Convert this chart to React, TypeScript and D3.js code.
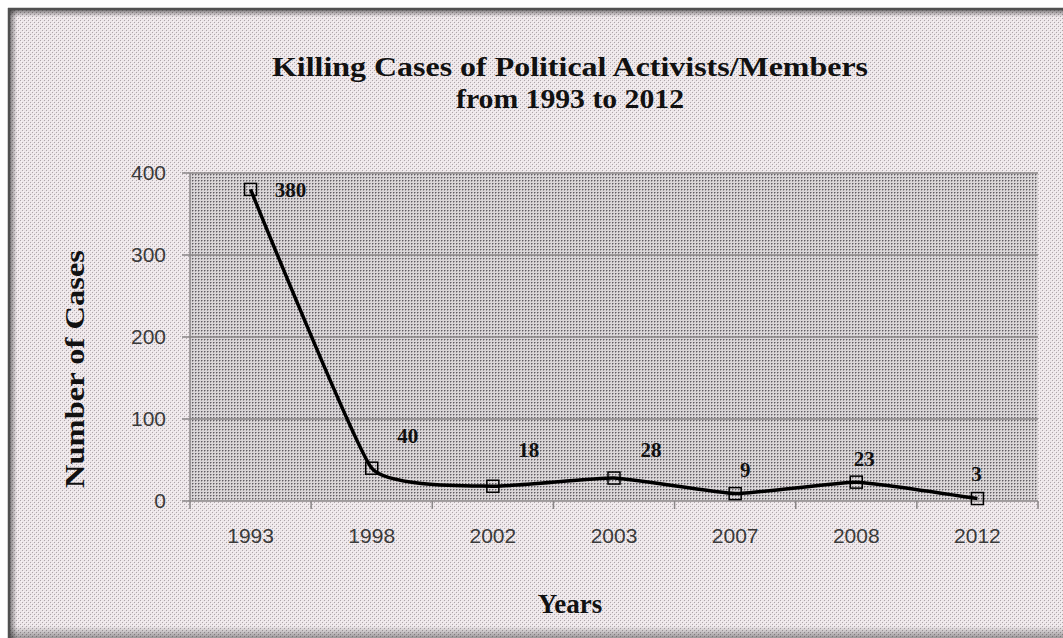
import React from 'react';
import * as d3 from 'd3';

const years = ['1993', '1998', '2002', '2003', '2007', '2008', '2012'];
const cases = [380, 40, 18, 28, 9, 23, 3];
const yTicks = [0, 100, 200, 300, 400];
const titleLines = ['Killing Cases of Political Activists/Members', 'from 1993 to 2012'];
const yTitle = 'Number of Cases';
const xTitle = 'Years';
// label placement offsets (dx, dy) relative to each point
const labelOffsets: [number, number][] = [[40, 8], [36, -25], [36, -29], [37, -21], [10, -17], [8, -16], [-1, -18]];

export default function App() {
  const W = 1063, H = 638;
  const plot = { l: 190, r: 1038, t: 173, b: 501 };
  const x = d3.scaleBand().domain(years).range([plot.l, plot.r]);
  const y = d3.scaleLinear().domain([0, 400]).range([plot.b, plot.t]);
  const cx = (k: string) => (x(k) as number) + x.bandwidth() / 2;
  const line = d3.line<number>()
    .x((_, i) => cx(years[i]))
    .y((d) => y(d))
    .curve(d3.curveCardinal.tension(0.6));
  const serif = '"Liberation Serif", "DejaVu Serif", serif';
  const sans = '"Liberation Sans", Arial, sans-serif';
  const bounds = x.domain().map((k) => x(k) as number).concat([plot.r]);
  const ms = 12;

  return (
    <svg width={W} height={H} style={{ position: 'absolute', left: 0, top: 0, display: 'block' }}>
      <defs>
        <pattern id="outer" width="4" height="4" patternUnits="userSpaceOnUse">
          <rect width="4" height="4" fill="#ede6e9" />
          <rect x="0" y="0" width="1" height="1" fill="#ada5a9" />
          <rect x="2" y="2" width="1" height="1" fill="#ada5a9" />
          <rect x="1" y="1" width="1" height="1" fill="#f8f4f6" />
          <rect x="3" y="3" width="1" height="1" fill="#f8f4f6" />
        </pattern>
        <pattern id="inner" width="3" height="3" patternUnits="userSpaceOnUse">
          <rect width="3" height="3" fill="#dad6d8" />
          <rect x="0" y="0" width="1" height="1" fill="#605c64" />
          <rect x="1" y="0" width="1" height="1" fill="#a09c9e" />
          <rect x="0" y="1" width="1" height="1" fill="#a09c9e" />
        </pattern>
        <linearGradient id="shTop" x1="0" y1="0" x2="0" y2="1">
          <stop offset="0" stopColor="#000" stopOpacity="0.45" />
          <stop offset="1" stopColor="#000" stopOpacity="0" />
        </linearGradient>
        <linearGradient id="shLeft" x1="0" y1="0" x2="1" y2="0">
          <stop offset="0" stopColor="#000" stopOpacity="0.45" />
          <stop offset="1" stopColor="#000" stopOpacity="0" />
        </linearGradient>
        <linearGradient id="shBottom" x1="0" y1="0" x2="0" y2="1">
          <stop offset="0" stopColor="#000" stopOpacity="0" />
          <stop offset="1" stopColor="#000" stopOpacity="0.35" />
        </linearGradient>
      </defs>
      <rect width={W} height={H} fill="#fff" />
      <rect x={8} y={8} width={W} height={H} fill="url(#outer)" />
      <rect x={8} y={10} width={W} height={7} fill="url(#shTop)" />
      <rect x={10} y={8} width={7} height={H} fill="url(#shLeft)" />
      <rect x={8} y={626} width={W} height={12} fill="url(#shBottom)" />
      <line x1={8} y1={9} x2={W} y2={9} stroke="#505050" strokeWidth={2.5} />
      <line x1={9} y1={8} x2={9} y2={H} stroke="#505050" strokeWidth={2.5} />

      {/* title */}
      {titleLines.map((t, i) => (
        <text key={t} x={570} y={76 + i * 32} textAnchor="middle" fontFamily={serif} fontWeight="bold"
          fontSize={27} fill="#111" textLength={i === 0 ? 596 : 228} lengthAdjust="spacingAndGlyphs">{t}</text>
      ))}

      {/* plot area */}
      <rect x={plot.l} y={plot.t} width={plot.r - plot.l} height={plot.b - plot.t} fill="url(#inner)" />
      {yTicks.map((t) => (
        <g key={t}>
          {t > 0 && <line x1={plot.l} x2={plot.r} y1={y(t)} y2={y(t)} stroke="#8a8687" strokeWidth={1.5} />}
          <line x1={plot.l - 8} x2={plot.l} y1={y(t)} y2={y(t)} stroke="#8a8687" strokeWidth={1.5} />
          <text x={166} y={y(t)} dy="0.35em" textAnchor="end" fontFamily={sans} fontSize={21} fill="#3a3a3a">{t}</text>
        </g>
      ))}
      <line x1={plot.l} x2={plot.l} y1={plot.t} y2={plot.b} stroke="#8a8687" strokeWidth={1.5} />
      <line x1={plot.l} x2={plot.r} y1={plot.b} y2={plot.b} stroke="#8a8687" strokeWidth={1.5} />
      {bounds.map((b, i) => (
        <line key={i} x1={b} x2={b} y1={plot.b} y2={plot.b + 8} stroke="#8a8687" strokeWidth={1.5} />
      ))}
      {years.map((k) => (
        <text key={k} x={cx(k)} y={543} textAnchor="middle" fontFamily={sans} fontSize={21} fill="#3a3a3a">{k}</text>
      ))}

      {/* series */}
      <path d={line(cases) || ''} fill="none" stroke="#000" strokeWidth={3.5} strokeLinejoin="round" />
      {cases.map((v, i) => (
        <rect key={i} x={cx(years[i]) - ms / 2} y={y(v) - ms / 2} width={ms} height={ms}
          fill="none" stroke="#000" strokeWidth={1.5} />
      ))}
      {cases.map((v, i) => (
        <text key={i} x={cx(years[i]) + labelOffsets[i][0]} y={y(v) + labelOffsets[i][1]} textAnchor="middle"
          fontFamily={serif} fontWeight="bold" fontSize={21} fill="#111">{v}</text>
      ))}

      {/* axis titles */}
      <text transform={`translate(84,369) rotate(-90)`} textAnchor="middle" fontFamily={serif} fontWeight="bold"
        fontSize={27} fill="#111" textLength={238} lengthAdjust="spacingAndGlyphs">{yTitle}</text>
      <text x={570} y={613} textAnchor="middle" fontFamily={serif} fontWeight="bold" fontSize={27} fill="#111">{xTitle}</text>
    </svg>
  );
}
